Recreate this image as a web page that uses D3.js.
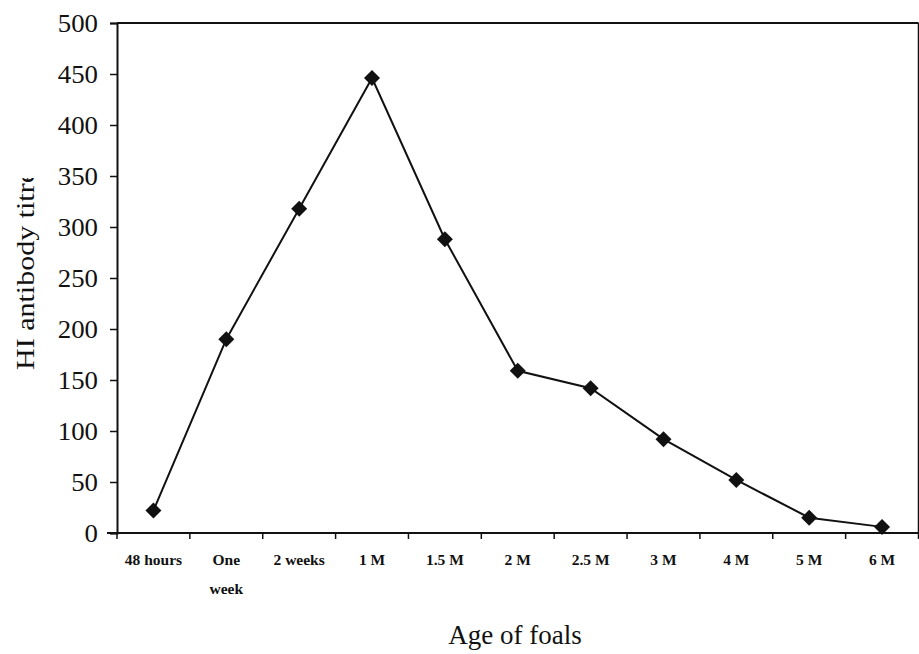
<!DOCTYPE html>
<html><head><meta charset="utf-8">
<script src="https://cdn.jsdelivr.net/npm/d3@7/dist/d3.min.js"></script>
<style>body{margin:0;background:#fff}svg{display:block}
text{font-family:"Liberation Serif","Times New Roman",Times,serif}</style>
</head><body>
<svg id="chart" width="919" height="654"></svg>
<script>
const categories = ["48 hours", "One week", "2 weeks", "1 M", "1.5 M", "2 M", "2.5 M", "3 M", "4 M", "5 M", "6 M"];
const titreValues = [22, 190, 318, 446, 288, 159, 142, 92, 52, 15, 6];
const yTicks = [0, 50, 100, 150, 200, 250, 300, 350, 400, 450, 500];

const FONT = '"Liberation Serif","Times New Roman",Times,serif';
const svg = d3.select("#chart");
const plotLeft = 117, plotRight = 918.5, plotTop = 23, plotBottom = 533;

const x = d3.scaleBand().domain(categories).range([plotLeft, plotRight]).padding(0);
const y = d3.scaleLinear().domain([0, 500]).range([plotBottom, plotTop]);

// frame: top and right borders
svg.append("line").attr("x1", plotLeft).attr("x2", plotRight).attr("y1", plotTop).attr("y2", plotTop)
  .attr("stroke", "#111").attr("stroke-width", 2);
svg.append("line").attr("x1", plotRight).attr("x2", plotRight).attr("y1", plotTop).attr("y2", plotBottom)
  .attr("stroke", "#111").attr("stroke-width", 1.5);

// y axis
const yAxis = svg.append("g").attr("transform", `translate(${plotLeft},0)`)
  .call(d3.axisLeft(y).tickValues(yTicks).tickSize(7).tickPadding(12));
yAxis.select(".domain").attr("stroke", "#111").attr("stroke-width", 2);
yAxis.selectAll(".tick line").attr("stroke", "#111").attr("stroke-width", 1.5);
yAxis.selectAll("text").attr("font-family", FONT).attr("font-size", 26).attr("fill", "#111")
  .attr("textLength", d => String(d).length * 13.4).attr("lengthAdjust", "spacingAndGlyphs");

// x axis with ticks at band boundaries
const xAxisG = svg.append("g").attr("transform", `translate(0,${plotBottom})`);
xAxisG.append("line").attr("x1", plotLeft - 10).attr("x2", plotRight).attr("y1", 0).attr("y2", 0)
  .attr("stroke", "#111").attr("stroke-width", 2);
const bounds = categories.map(c => x(c)).concat([x(categories[categories.length - 1]) + x.bandwidth()]);
xAxisG.selectAll("line.tk").data(bounds).enter().append("line").attr("class", "tk")
  .attr("x1", d => d).attr("x2", d => d).attr("y1", 0).attr("y2", 6)
  .attr("stroke", "#111").attr("stroke-width", 1.5);
const lbl = xAxisG.selectAll("text.xl").data(categories).enter().append("text").attr("class", "xl")
  .attr("x", d => x(d) + x.bandwidth() / 2).attr("y", 32)
  .attr("text-anchor", "middle")
  .attr("font-family", FONT).attr("font-weight", "bold").attr("font-size", 15.5).attr("fill", "#111");
lbl.each(function(d) {
  const parts = d === "One week" ? ["One", "week"] : [d];
  const t = d3.select(this);
  parts.forEach((p, i) => t.append("tspan").attr("x", x(d) + x.bandwidth() / 2).attr("dy", i === 0 ? 0 : 29).text(p));
});

// axis titles
svg.append("text").attr("x", 515).attr("y", 644).attr("text-anchor", "middle")
  .attr("font-family", FONT).attr("font-size", 27).attr("fill", "#111").text("Age of foals");
svg.append("clipPath").attr("id", "yclip").append("rect").attr("x", 0).attr("y", 178).attr("width", 60).attr("height", 300);
svg.append("g").attr("clip-path", "url(#yclip)").append("text")
  .attr("transform", "translate(34,370) rotate(-90)")
  .attr("font-family", FONT).attr("font-size", 26).attr("fill", "#111")
  .attr("textLength", 200).attr("lengthAdjust", "spacingAndGlyphs")
  .text("HI antibody titre");

// line
const line = d3.line().x((d, i) => x(categories[i]) + x.bandwidth() / 2).y(d => y(d));
svg.append("path").datum(titreValues).attr("d", line).attr("fill", "none").attr("stroke", "#111").attr("stroke-width", 2);

// diamond markers
const s = 8;
svg.selectAll("path.mk").data(titreValues).enter().append("path").attr("class", "mk")
  .attr("transform", (d, i) => `translate(${x(categories[i]) + x.bandwidth() / 2},${y(d)})`)
  .attr("d", `M0,${-s}L${s},0L0,${s}L${-s},0Z`).attr("fill", "#111");
</script>
</body></html>
